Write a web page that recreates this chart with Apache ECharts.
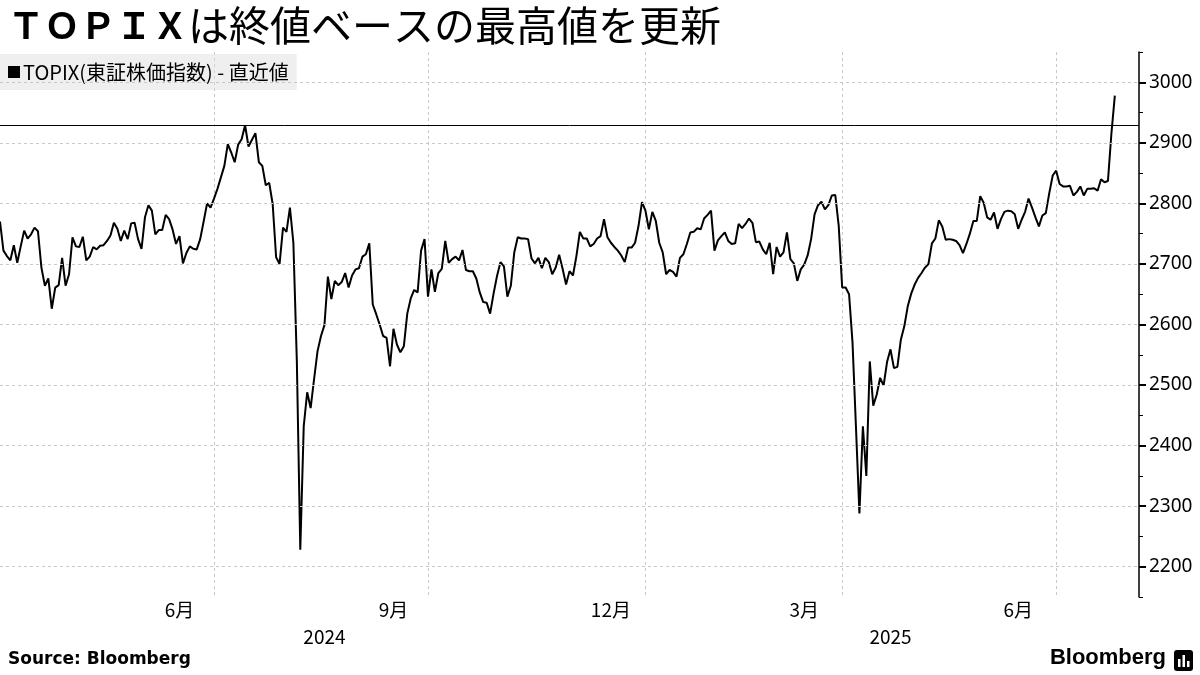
<!DOCTYPE html>
<html><head><meta charset="utf-8">
<script src="https://cdn.jsdelivr.net/npm/echarts@6/dist/echarts.min.js"></script>
<style>html,body{margin:0;padding:0;background:#fff}#c{width:1200px;height:675px}</style>
</head><body><div id="c"></div>
<script>
// ---- data ----
const startDate = '2024-03-29';
const endDate = '2025-08-04';
const tseHolidays = ['2024-04-29','2024-05-03','2024-05-06','2024-07-15','2024-08-12','2024-09-16','2024-09-23','2024-10-14','2024-11-04','2024-12-31','2025-01-01','2025-01-02','2025-01-03','2025-01-13','2025-02-11','2025-02-24','2025-03-20','2025-04-29','2025-05-05','2025-05-06','2025-07-21'];
const topix = [
2770,2722,2713,2706,2731,2702,2729,2755,2742,2749,
2760,2754,2694,2664,2676,2626,2661,2665,2710,2664,
2683,2744,2729,2728,2745,2706,2712,2728,2724,2730,
2731,2738,2747,2768,2758,2738,2755,2741,2767,2768,
2741,2725,2777,2797,2788,2749,2756,2756,2781,2774,
2757,2733,2746,2701,2718,2729,2725,2724,2741,2770,
2800,2793,2808,2824,2843,2862,2898,2884,2868,2897,
2906,2929,2894,2905,2916,2868,2862,2830,2834,2799,
2711,2700,2760,2753,2793,2735,2540,2228,2432,2488,
2462,2510,2556,2581,2599,2679,2642,2672,2665,2670,
2685,2661,2681,2691,2693,2712,2716,2734,2633,2617,
2600,2581,2578,2531,2593,2567,2554,2564,2618,2643,
2657,2653,2722,2741,2646,2691,2654,2685,2692,2738,
2702,2708,2712,2706,2723,2690,2688,2688,2676,2653,
2637,2636,2618,2651,2680,2703,2696,2646,2664,2719,
2744,2742,2742,2741,2709,2701,2710,2693,2710,2703,
2683,2694,2715,2692,2666,2688,2681,2713,2753,2742,
2742,2729,2733,2742,2746,2774,2744,2735,2728,2722,
2714,2703,2727,2727,2735,2763,2802,2788,2757,2786,
2771,2735,2719,2683,2690,2687,2679,2710,2716,2733,
2752,2753,2759,2757,2775,2781,2788,2722,2739,2746,
2752,2738,2733,2734,2766,2759,2766,2775,2768,2736,
2737,2724,2716,2735,2683,2728,2712,2719,2752,2708,
2701,2672,2691,2699,2714,2741,2782,2797,2803,2790,
2797,2813,2814,2763,2661,2661,2650,2570,2430,2288,
2432,2350,2539,2466,2484,2512,2499,2538,2559,2528,
2530,2575,2597,2630,2651,2666,2677,2685,2694,2700,
2734,2742,2772,2762,2740,2741,2740,2738,2731,2718,
2733,2750,2771,2771,2812,2801,2777,2773,2785,2758,
2774,2786,2788,2787,2782,2758,2773,2786,2808,2793,
2777,2762,2780,2784,2817,2846,2854,2832,2828,2828,
2829,2813,2819,2828,2813,2824,2824,2825,2821,2840,
2835,2837,2915,2978
];
const recordHigh = 2929.17;
const yTickValues = [2200,2300,2400,2500,2600,2700,2800,2900,3000];
const yMinorTickValues = [2150,2250,2350,2450,2550,2650,2750,2850,2950,3050];
const quarterEndDates = ['2024-06-28','2024-09-30','2024-12-30','2025-03-31','2025-06-30'];
const monthLabelDates = ['2024-06-14','2024-09-12','2024-12-16','2025-03-13','2025-06-13'];
const monthLabelTexts = ['6月','9月','12月','3月','6月'];
const yearLabelDates = ['2024-08-15','2025-04-18'];
const yearLabelTexts = ['2024','2025'];
const seriesName = 'TOPIX(東証株価指数) - 直近値';
const titleBold = 'ＴＯＰＩＸ';
const titleRest = 'は終値ベースの最高値を更新';
const sourceText = 'Source: Bloomberg';

// ---- trading-day calendar (categories) ----
function tradingDays(start, end, hol) {
  const out = []; const h = new Set(hol);
  let d = new Date(start + 'T00:00:00Z'); const e = new Date(end + 'T00:00:00Z');
  while (d <= e) {
    const w = d.getUTCDay(); const s = d.toISOString().slice(0, 10);
    if (w !== 0 && w !== 6 && !h.has(s)) out.push(s);
    d = new Date(d.getTime() + 86400000);
  }
  return out;
}
const dates = tradingDays(startDate, endDate, tseHolidays);

const monthIdx = {}; monthLabelDates.forEach((d, i) => monthIdx[d] = monthLabelTexts[i]);
const yearIdx = {}; yearLabelDates.forEach((d, i) => yearIdx[d] = yearLabelTexts[i]);
const qSet = new Set(quarterEndDates);

const jpFont = '"Noto Sans CJK JP", "Noto Sans", sans-serif';
const chart = echarts.init(document.getElementById('c'), null, {renderer: 'canvas'});
chart.setOption({
  animation: false,
  backgroundColor: '#fff',
  title: {
    text: '{a|' + titleBold + '}{b|' + titleRest + '}',
    left: 3, top: 0,
    textStyle: {
      rich: {
        a: {fontSize: 36, fontWeight: 'bold', fontFamily: jpFont, color: '#000'},
        b: {fontSize: 41, fontWeight: 'normal', fontFamily: jpFont, color: '#000'}
      }
    }
  },
  legend: {
    data: [seriesName],
    left: 0, top: 54,
    padding: [8, 8, 8, 8],
    backgroundColor: 'rgba(220,220,220,0.45)',
    icon: 'rect', itemWidth: 12, itemHeight: 12,
    selectedMode: false,
    textStyle: {fontSize: 20, color: '#000', fontFamily: jpFont, padding: [0,0,0,-2]}
  },
  grid: {left: 0, right: 61, top: 52, bottom: 78, containLabel: false},
  xAxis: [{
    type: 'category', data: dates, boundaryGap: false,
    axisLine: {show: false}, axisTick: {show: false},
    axisLabel: {
      interval: (i, v) => monthIdx[v] !== undefined,
      formatter: v => monthIdx[v] || '',
      margin: 3, fontSize: 19, color: '#000', fontFamily: jpFont
    },
    splitLine: {show: true, interval: (i, v) => qSet.has(v), lineStyle: {color: '#c8c8c8', type: [3, 3], width: 1}}
  }, {
    type: 'category', data: dates, boundaryGap: false, position: 'bottom', offset: 27,
    axisLine: {show: false}, axisTick: {show: false}, splitLine: {show: false},
    axisLabel: {
      interval: (i, v) => yearIdx[v] !== undefined,
      formatter: v => yearIdx[v] || '',
      margin: 3, fontSize: 19, color: '#000', fontFamily: jpFont
    }
  }],
  yAxis: [{
    type: 'value', position: 'right', min: 2150, max: 3050, interval: 50,
    axisLine: {show: true, lineStyle: {color: '#000', width: 1.5}},
    axisTick: {show: true, customValues: yTickValues, length: 7, lineStyle: {color: '#000', width: 2}},
    splitLine: {show: false},
    axisLabel: {
      customValues: yTickValues,
      formatter: v => String(v),
      margin: 10, fontSize: 19, color: '#000', fontFamily: '"Noto Sans", sans-serif'
    }
  }, {
    type: 'value', position: 'right', min: 2150, max: 3050, interval: 50,
    axisLine: {show: false},
    axisTick: {show: true, customValues: yMinorTickValues, length: 4, lineStyle: {color: '#000', width: 1}},
    splitLine: {show: false},
    axisLabel: {show: false}
  }],
  series: [{
    name: 'grid', type: 'line', data: dates.map(() => null), z: 1, silent: true,
    markLine: {
      silent: true, symbol: ['none', 'none'], label: {show: false},
      lineStyle: {color: '#c8c8c8', type: [3, 3], width: 1},
      data: yTickValues.map(v => ({yAxis: v}))
    }
  }, {
    name: seriesName, type: 'line', data: topix, z: 3,
    showSymbol: false, symbol: 'none',
    itemStyle: {color: '#000'},
    lineStyle: {color: '#000', width: 2},
    markLine: {
      silent: true, symbol: ['none', 'none'], label: {show: false},
      lineStyle: {color: '#000', type: 'solid', width: 1},
      data: [{yAxis: recordHigh}]
    }
  }],
  graphic: [
    {type: 'text', left: 8, top: 651, style: {text: sourceText, font: 'bold 17px "DejaVu Sans", sans-serif', fill: '#000'}},
    {type: 'text', right: 34, top: 647, style: {text: 'Bloomberg', font: 'bold 22px "Liberation Sans", sans-serif', fill: '#000'}},
    {type: 'group', right: 7, top: 650, children: [
      {type: 'rect', shape: {x: 0, y: 0, width: 19, height: 21, r: 3}, style: {fill: '#000'}},
      {type: 'rect', shape: {x: 4, y: 9, width: 2.5, height: 8}, style: {fill: '#fff'}},
      {type: 'rect', shape: {x: 8.5, y: 5, width: 2.5, height: 12}, style: {fill: '#fff'}},
      {type: 'rect', shape: {x: 13, y: 11, width: 2.5, height: 6}, style: {fill: '#fff'}}
    ]}
  ]
});
</script>
</body></html>
